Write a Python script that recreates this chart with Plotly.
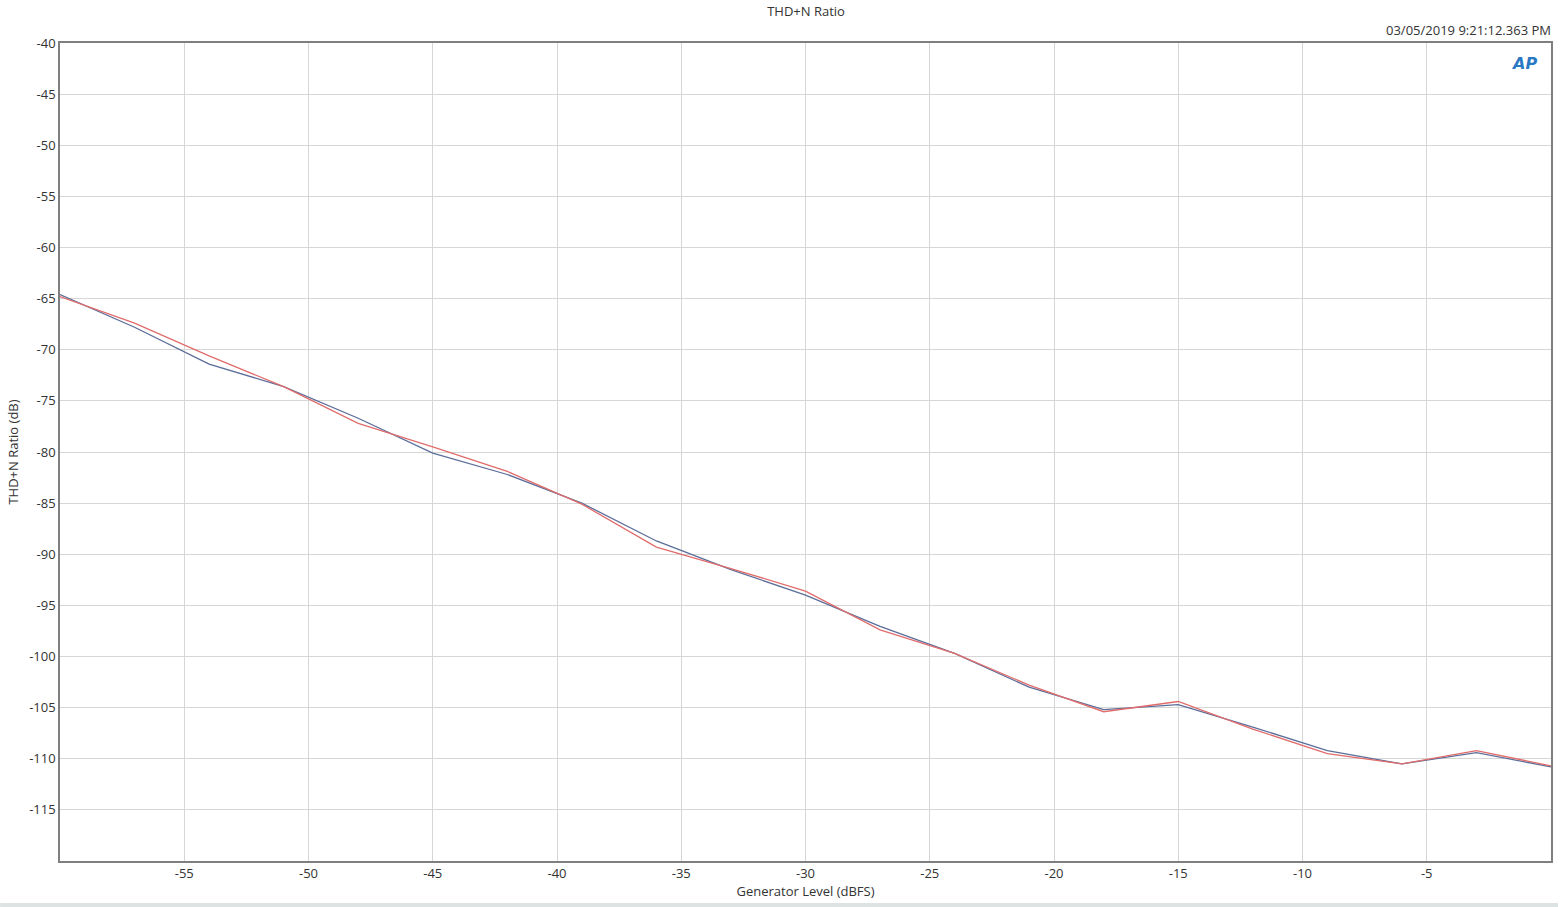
import plotly.graph_objects as go

gen_level = [-60, -57, -54, -51, -48, -45, -42, -39, -36, -33, -30, -27, -24, -21, -18, -15, -12, -9, -6, -3, 0]
thdn_blue = [-64.6, -67.8, -71.4, -73.6, -76.7, -80.1, -82.2, -85.0, -88.7, -91.5, -94.0, -97.05, -99.7, -103.0, -105.2, -104.7, -106.9, -109.2, -110.5, -109.4, -110.8]
thdn_red = [-64.8, -67.4, -70.6, -73.6, -77.2, -79.5, -81.9, -85.1, -89.3, -91.4, -93.6, -97.4, -99.7, -102.8, -105.4, -104.4, -107.1, -109.5, -110.5, -109.2, -110.7]

x_ticks = [-55, -50, -45, -40, -35, -30, -25, -20, -15, -10, -5]
y_ticks = [-115, -110, -105, -100, -95, -90, -85, -80, -75, -70, -65, -60, -55, -50, -45, -40]

fig = go.Figure()
fig.add_trace(go.Scatter(x=gen_level, y=thdn_blue, mode="lines",
                         line=dict(color="#5b6e99", width=1.3), showlegend=False))
fig.add_trace(go.Scatter(x=gen_level, y=thdn_red, mode="lines",
                         line=dict(color="#e06c6c", width=1.3), showlegend=False))

font_family = "Open Sans, Noto Sans, sans-serif"

fig.update_layout(
    width=1560, height=907,
    margin=dict(l=60, r=7, t=43, b=46),
    paper_bgcolor="white", plot_bgcolor="white",
    font=dict(family=font_family, size=13, color="#333333"),
    xaxis=dict(range=[-60, 0], tickvals=x_ticks, ticktext=[str(v) for v in x_ticks],
               showgrid=True, gridcolor="#d6d6d6", gridwidth=1,
               showline=True, linecolor="#7f7f7f", linewidth=1.5, mirror=True,
               zeroline=False, ticks="", tickfont=dict(size=13, color="#333333"),
               title=dict(text="Generator Level (dBFS)", font=dict(size=13, color="#333333"), standoff=2)),
    yaxis=dict(range=[-120, -40], tickvals=y_ticks, ticktext=[str(v) for v in y_ticks],
               showgrid=True, gridcolor="#d6d6d6", gridwidth=1,
               showline=True, linecolor="#7f7f7f", linewidth=1.5, mirror=True,
               zeroline=False, ticks="", tickfont=dict(size=13, color="#333333"),
               title=dict(text="THD+N Ratio (dB)", font=dict(size=13, color="#333333"), standoff=8)),
    title=dict(text="THD+N Ratio", x=0.5167, xanchor="center", y=0.987, yanchor="middle",
               font=dict(size=13, color="#333333")),
)

fig.add_annotation(text="03/05/2019 9:21:12.363 PM", xref="paper", yref="paper",
                   x=1.0, y=1.0, xanchor="right", yanchor="bottom", yshift=2, xshift=2,
                   showarrow=False, font=dict(size=13, color="#333333"))
fig.add_annotation(text="<b><i>AP</i></b>", xref="paper", yref="paper",
                   x=0.982, y=0.975, xanchor="center", yanchor="middle",
                   showarrow=False, font=dict(size=16, color="#2a78c4", family="DejaVu Sans"))

fig.add_shape(type="rect", xref="paper", yref="paper",
              x0=-60 / 1493, x1=1 + 7 / 1493, y0=-46 / 818, y1=-42 / 818,
              fillcolor="#dde3e3", line=dict(width=0), layer="below")

fig.write_html("out.html", config={"displayModeBar": False},
               post_script="document.body.style.margin='0';document.body.style.overflow='hidden';")
